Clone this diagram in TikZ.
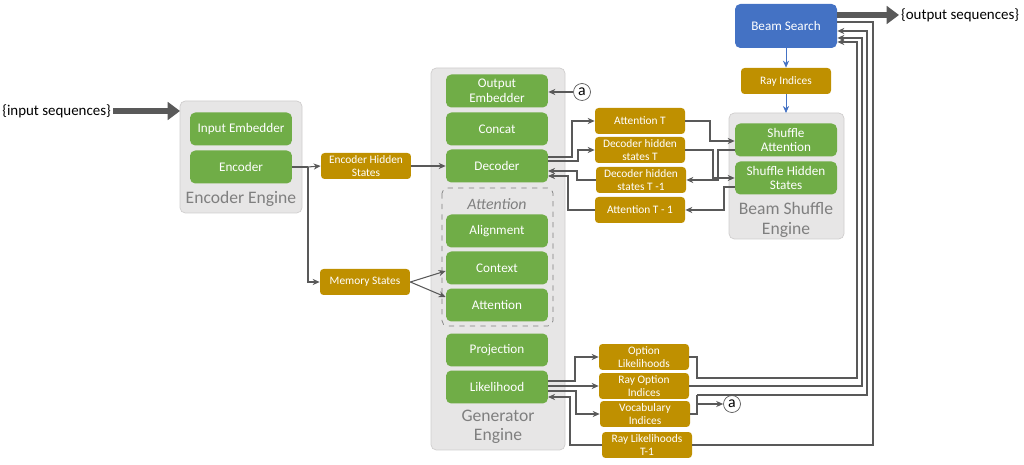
\documentclass[tikz,border=0pt]{standalone}
\usepackage{fontspec}
\setmainfont{Carlito}
\usetikzlibrary{positioning,arrows.meta}
\definecolor{grn}{HTML}{70AD47}
\definecolor{gld}{HTML}{BF9000}
\definecolor{blu}{HTML}{4472C4}
\definecolor{eng}{HTML}{E7E6E6}
\definecolor{engline}{HTML}{D0CECE}
\definecolor{lbl}{HTML}{7F7F7F}
\definecolor{wire}{HTML}{595959}

\begin{document}
\begin{tikzpicture}[
    x=0.02cm, y=-0.02cm,
    >={Stealth[length=4pt,width=3.5pt]},
    engine/.style={draw=engline, fill=eng, rounded corners=3pt},
    module/.style={fill=grn, rounded corners=3pt, text=white, minimum width=2.04cm, minimum height=0.66cm, align=center, font=\fontsize{7.5}{8.5}\selectfont, inner sep=1pt},
    data/.style={fill=gld, rounded corners=2pt, text=white, minimum width=1.8cm, minimum height=0.52cm, align=center, font=\fontsize{6.5}{7.5}\selectfont, inner sep=1pt},
    enginelabel/.style={text=lbl, font=\fontsize{10}{11}\selectfont, align=center},
    wire/.style={draw=wire, line width=0.6pt},
    ref/.style={circle, draw=wire, inner sep=0.5pt, minimum size=0.34cm, font=\fontsize{9}{9}\selectfont}
]
\useasboundingbox (0,0) rectangle (1024,465);

% engines
\draw[engine] (180,101) rectangle (302,213);
\draw[engine] (431,68) rectangle (565,450);
\draw[engine] (729,113) rectangle (844,239);
\draw[draw=lbl, dashed, rounded corners=3pt] (442,188) rectangle (553,326);

\node[enginelabel] at (241,199) {Encoder Engine};
\node[enginelabel] at (498,427) {Generator\\Engine};
\node[enginelabel] at (786,220) {Beam Shuffle\\Engine};
\node[text=lbl, font=\fontsize{9}{10}\selectfont\itshape] at (497,204) {Attention};

% encoder engine
\node[module] (emb) at (241,129) {Input Embedder};
\node[module] (enc) at (241,167) {Encoder};

% generator engine
\node[module] (oemb) at (497,91) {Output\\Embedder};
\node[module] (cat) at (497,129) {Concat};
\node[module] (dec) at (497,166) {Decoder};
\node[module] (aln) at (497,231) {Alignment};
\node[module] (ctx) at (497,268) {Context};
\node[module] (att) at (497,305) {Attention};
\node[module] (proj) at (497,350) {Projection};
\node[module] (lik) at (497,387) {Likelihood};

% beam shuffle engine
\node[module] (shatt) at (786,140) {Shuffle\\Attention};
\node[module] (shhid) at (786,178) {Shuffle Hidden\\States};
\node[module, fill=blu, minimum height=0.88cm] (beam) at (786,26) {Beam Search};

% data
\node[data] (ehs) at (366,166) {Encoder Hidden\\States};
\node[data] (mem) at (365,282) {Memory States};
\node[data] (attT) at (640,121) {Attention T};
\node[data] (dhsT) at (640,150) {Decoder hidden\\states T};
\node[data] (dhsP) at (641,180) {Decoder hidden\\states T -1};
\node[data] (attP) at (640,210) {Attention T - 1};
\node[data] (ray) at (786,81) {Ray Indices};
\node[data] (optl) at (644,357) {Option\\Likelihoods};
\node[data] (rayo) at (644,386) {Ray Option\\Indices};
\node[data] (voc) at (645,414) {Vocabulary\\Indices};
\node[data] (rayl) at (647,445) {Ray Likelihoods\\T-1};

\node[ref] (a1) at (582,92) {a};
\node[ref] (a2) at (732,404) {a};

\node[anchor=east, font=\fontsize{8.5}{10}\selectfont, inner sep=1pt] (insq) at (113,111) {\{input sequences\}};
\node[anchor=west, font=\fontsize{8.5}{10}\selectfont, inner sep=1pt] (outsq) at (899,15) {\{output sequences\}};

% thick in/out arrows
\draw[wire, line width=3.5pt, -{Triangle[length=7pt,width=10pt]}] (insq.east) -- (180,111);
\draw[wire, line width=3.5pt, -{Triangle[length=7pt,width=10pt]}] (beam.east |- 0,15) -- (outsq.west);

% encoder to generator
\coordinate (split) at (308,167);
\draw[wire] (enc.east) -- (split);
\draw[wire, ->] (split) -- (ehs.west);
\draw[wire, ->] (split) |- (mem.west);
\draw[wire, ->] (ehs.east) -- (dec.west);
\draw[wire, ->] (mem.east) -- (ctx.west |- 0,271);
\draw[wire, ->] (mem.east) -- (att.west |- 0,297);
\draw[wire, ->] (a1) -- (oemb.east |- a1);

% decoder states
\draw[wire, ->] (548,157) -| (572,121) -- (attT.west);
\draw[wire, ->] (548,161) -| (578,150) -- (dhsT.west);
\draw[wire, ->] (dhsP.west) -| (577,171) -- (548,171);
\draw[wire, ->] (attP.west) -| (568,176) -- (548,176);

% beam shuffle
\draw[wire, ->] (attT.east) -| (710,141) -- (shatt.west |- 0,141);
\draw[wire, ->] (dhsT.east) -| (713,178) -- (shhid.west);
\draw[wire, ->] (shatt.west |- 0,150) -| (718,180) -- (dhsP.east);
\draw[wire, ->] (shhid.west |- 0,187) -| (724,210) -- (attP.east);
\draw[draw=blu, ->] (beam.south) -- (ray.north);
\draw[draw=blu, ->] (ray.south) -- (786,113);

% likelihood outputs
\draw[wire, ->] (548,381) -| (575,357) -- (optl.west);
\draw[wire, ->] (548,386) -- (rayo.west);
\draw[wire, ->] (548,391) -| (576,414) -- (voc.west);
\draw[wire, ->] (rayl.west) -| (570,397) -- (548,397);

% back to beam search
\draw[wire, ->] (optl.east) -| (697,378) -| (857,42) -- (beam.east |- 0,42);
\draw[wire, ->] (rayo.east) -| (862,38) -- (beam.east |- 0,38);
\draw[wire] (voc.east) -| (697,395);
\draw[wire, ->] (697,395) -| (867,31) -- (beam.east |- 0,31);
\draw[wire, ->] (697,404) -- (a2);
\draw[wire] (beam.east |- 0,22) -| (873,445) -- (rayl.east);
\end{tikzpicture}
\end{document}
